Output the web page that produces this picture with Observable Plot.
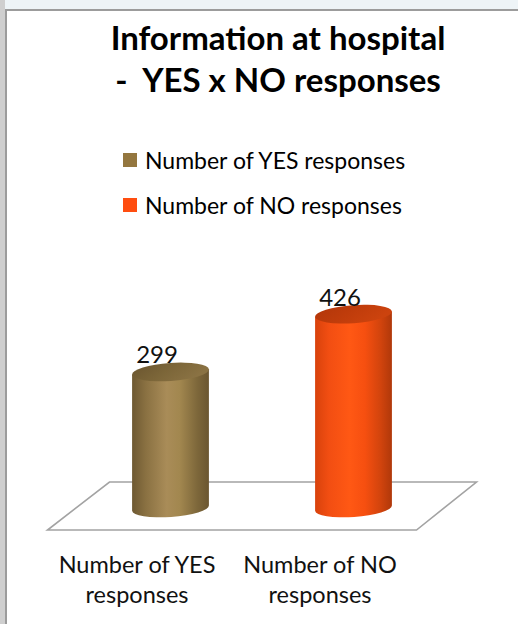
<!DOCTYPE html>
<html>
<head>
<meta charset="utf-8">
<script src="https://cdn.jsdelivr.net/npm/d3@7"></script>
<script src="https://cdn.jsdelivr.net/npm/@observablehq/plot@0.6"></script>
<style>
  html, body { margin: 0; padding: 0; background: #fff; }
  #page { position: relative; width: 518px; height: 624px; overflow: hidden; font-family: Lato, "Open Sans", sans-serif; color: #000; background: #fff; }
  .topstrip { position: absolute; left: 0; top: 0; width: 518px; height: 9px; background: #eef4f7; }
  .leftstrip { position: absolute; left: 0; top: 0; width: 5px; height: 624px; background: #cfcfcf; }
  .frame { position: absolute; left: 5px; top: 9px; width: 600px; height: 700px; border-top: 2px solid #9c9c9c; border-left: 2px solid #9c9c9c; box-sizing: border-box; }
  .tline { position: absolute; left: 0; width: 556px; text-align: center; font-weight: 700; font-size: 33px; line-height: 37px; white-space: pre; }
  .leg { position: absolute; left: 123px; height: 26px; display: flex; align-items: center; font-size: 23px; white-space: pre; }
  .leg .sw { width: 14px; height: 14px; margin-right: 8px; }
  #chart { position: absolute; left: 0; top: 230px; }
</style>
</head>
<body>
<div id="page">
  <div class="topstrip"></div>
  <div class="leftstrip"></div>
  <div class="frame"></div>
  <div id="title"></div>
  <div id="legend"></div>
  <div id="chart"></div>
</div>
<script>
// ---- data ----
const titleLines = ["Information at hospital", "-  YES x NO responses"];
const categories = ["Number of YES responses", "Number of NO responses"];
const axisLabels = ["Number of YES\nresponses", "Number of NO\nresponses"];
const values = [299, 426];
const colors = ["#94773f", "#ff4d10"];

const data = categories.map((c, i) => ({category: c, value: values[i], label: axisLabels[i], i}));

// ---- title ----
const title = d3.select("#title");
title.selectAll("div").data(titleLines).join("div")
  .attr("class", "tline")
  .style("top", (d, i) => (i === 0 ? 19 : 61) + "px")
  .text(d => d);

// ---- legend ----
const legend = d3.select("#legend");
const items = legend.selectAll("div").data(categories).join("div")
  .attr("class", "leg")
  .style("top", (d, i) => (i === 0 ? 147 : 192) + "px");
items.append("div").attr("class", "sw").style("background", (d, i) => colors[i]);
items.append("span").text(d => d);

// ---- gradients ----
const bodyStops = [
  [["0%", "#6e5932"], ["18%", "#8a7142"], ["45%", "#a98c58"], ["62%", "#a2874f"], ["85%", "#7d673a"], ["100%", "#6b5630"]],
  [["0%", "#d8420c"], ["18%", "#f24e12"], ["45%", "#ff5814"], ["65%", "#f64f10"], ["85%", "#d2440d"], ["100%", "#b0380a"]]
];
const topStops = [
  [["0%", "#6a552f"], ["50%", "#7b6538"], ["100%", "#8a7243"]],
  [["0%", "#b2360a"], ["50%", "#bf3c0b"], ["100%", "#cc430e"]]
];

const tilt = -4; // degrees

function bandOf(x) {
  return typeof x.bandwidth === "function" ? x.bandwidth() : (x.bandwidth || 0);
}

// floor parallelogram drawn from x/y scales
const floor = (index, scales) => {
  const x = scales.x, y = scales.y;
  const bw = bandOf(x);
  const left = x(categories[0]), right = x(categories[categories.length - 1]) + bw;
  const y0 = y(0);
  const pts = [[left - 22.5, y0 - 26], [right + 84.5, y0 - 26], [right + 24.5, y0 + 22], [left - 84.5, y0 + 22]];
  const g = d3.create("svg:g");
  g.append("polygon").attr("points", pts.map(p => p.join(",")).join(" "))
    .attr("fill", "#fff").attr("stroke", "#a3a3a3").attr("stroke-width", 1.6);
  return g.node();
};

// cylinders drawn from x/y scales
const cylinders = (index, scales) => {
  const x = scales.x, y = scales.y;
  const bw = bandOf(x);
  const g = d3.create("svg:g");
  const a = tilt * Math.PI / 180;
  data.forEach((d, i) => {
    const rx = bw / 2, ry = 9;
    const cx = x(d.category) + rx;
    const cyT = y(d.value), cyB = y(0);
    const ex = rx * Math.cos(a), ey = rx * Math.sin(a);
    const path = `M${cx - ex},${cyT - ey} L${cx - ex},${cyB - ey} A${rx},${ry} ${tilt} 0 0 ${cx + ex},${cyB + ey} L${cx + ex},${cyT + ey} Z`;
    g.append("path").attr("d", path).attr("fill", `url(#body${i})`);
    g.append("ellipse").attr("cx", cx).attr("cy", cyT).attr("rx", rx).attr("ry", ry)
      .attr("transform", `rotate(${tilt} ${cx} ${cyT})`).attr("fill", `url(#top${i})`);
  });
  return g.node();
};

const plot = Plot.plot({
  width: 518,
  height: 394,
  marginLeft: 26.5,
  marginRight: 19.5,
  marginTop: 50.5,
  marginBottom: 116,
  x: {type: "band", domain: categories, padding: 0.5792, axis: null},
  y: {domain: [0, 500], axis: null},
  style: {background: "transparent", fontFamily: "Lato, 'Open Sans', sans-serif", overflow: "visible"},
  marks: [
    floor,
    cylinders,
    Plot.text(data, {x: "category", y: "value", text: d => String(d.value), dx: -14, dy: -9, lineAnchor: "bottom", fontSize: 24, fill: "#111"}),
    Plot.text(data, {x: "category", y: d => 0, text: "label", dx: -34, dy: 44, lineAnchor: "top", lineHeight: 1.25, fontSize: 23.5, fill: "#111"})
  ]
});

// gradient definitions
const svg = d3.select(plot.tagName.toLowerCase() === "svg" ? plot : plot.querySelector("svg"));
const defs = svg.insert("defs", ":first-child");
bodyStops.forEach((stops, i) => {
  const lg = defs.append("linearGradient").attr("id", `body${i}`).attr("x1", "0%").attr("x2", "100%").attr("y1", "0%").attr("y2", "0%");
  stops.forEach(([o, c]) => lg.append("stop").attr("offset", o).attr("stop-color", c));
});
topStops.forEach((stops, i) => {
  const lg = defs.append("linearGradient").attr("id", `top${i}`).attr("x1", "0%").attr("x2", "100%").attr("y1", "0%").attr("y2", "40%");
  stops.forEach(([o, c]) => lg.append("stop").attr("offset", o).attr("stop-color", c));
});

document.getElementById("chart").appendChild(plot);
</script>
</body>
</html>
